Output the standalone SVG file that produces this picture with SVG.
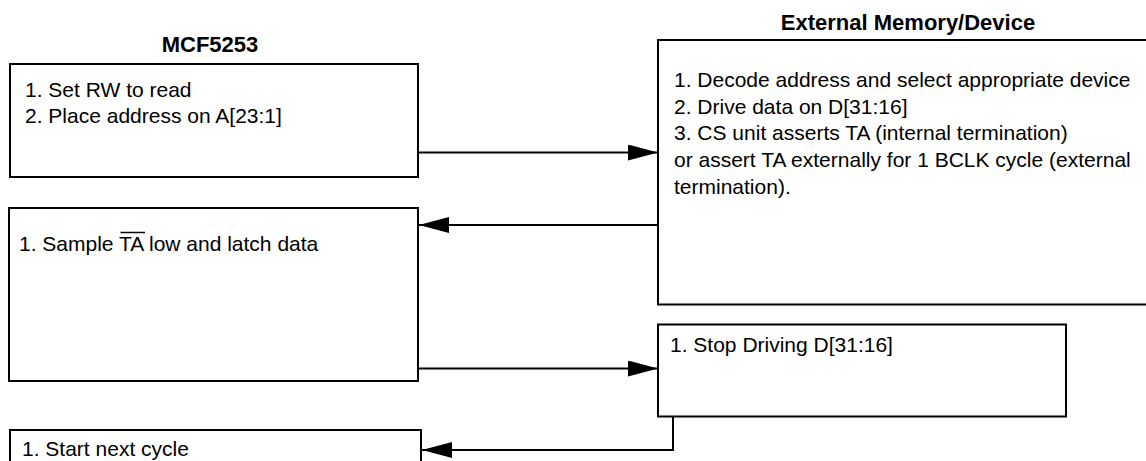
<svg xmlns="http://www.w3.org/2000/svg" width="1146" height="461" viewBox="0 0 1146 461">
<style>
.box{fill:#fff;stroke:#000;stroke-width:2}
.t{font-family:"Liberation Sans",Arial,sans-serif;font-size:21px;fill:#000}
.h{font-family:"Liberation Sans",Arial,sans-serif;font-size:22px;font-weight:bold;fill:#000;text-anchor:middle}
.c{fill:none;stroke:#000;stroke-width:2}
</style>
<defs>
<marker id="ah" markerUnits="userSpaceOnUse" markerWidth="30" markerHeight="16" refX="30" refY="8" orient="auto">
<path d="M0,0 L30,8 L0,16 z" fill="#000"/>
</marker>
</defs>
<rect width="1146" height="461" fill="#fff"/>
<text class="h" x="210" y="52">MCF5253</text>
<text class="h" x="908" y="30">External Memory/Device</text>
<g id="n1">
<rect class="box" x="10" y="64" width="408" height="113"/>
<text class="t" x="25" y="97">1. Set RW to read</text>
<text class="t" x="25" y="122.5">2. Place address on A[23:1]</text>
</g>
<g id="n2">
<rect class="box" x="9" y="208" width="409" height="173"/>
<text class="t" x="19" y="251">1. Sample <tspan id="ta">TA</tspan> low and latch data</text>
<line x1="120.5" y1="232.5" x2="145" y2="232.5" stroke="#000" stroke-width="1.5"/>
</g>
<g id="n3">
<rect class="box" x="658" y="40" width="500" height="264.5"/>
<text class="t" x="674" y="87">1. Decode address and select appropriate device</text>
<text class="t" x="674" y="113.7">2. Drive data on D[31:16]</text>
<text class="t" x="674" y="140.4">3. CS unit asserts TA (internal termination)</text>
<text class="t" x="674" y="167.1">or assert TA externally for 1 BCLK cycle (external</text>
<text class="t" x="674" y="193.8">termination).</text>
</g>
<g id="n4">
<rect class="box" x="658" y="324.5" width="408" height="92"/>
<text class="t" x="670" y="352">1. Stop Driving D[31:16]</text>
</g>
<g id="n5">
<rect class="box" x="10" y="430" width="411" height="50"/>
<text class="t" x="22" y="455.5">1. Start next cycle</text>
</g>
<g id="connectors">
<line class="c" x1="418" y1="152.5" x2="658" y2="152.5" marker-end="url(#ah)"/>
<line class="c" x1="658" y1="225" x2="419" y2="225" marker-end="url(#ah)"/>
<line class="c" x1="418" y1="368.5" x2="658" y2="368.5" marker-end="url(#ah)"/>
<polyline class="c" points="673,416.5 673,450 422,450" marker-end="url(#ah)"/>
</g>
</svg>
